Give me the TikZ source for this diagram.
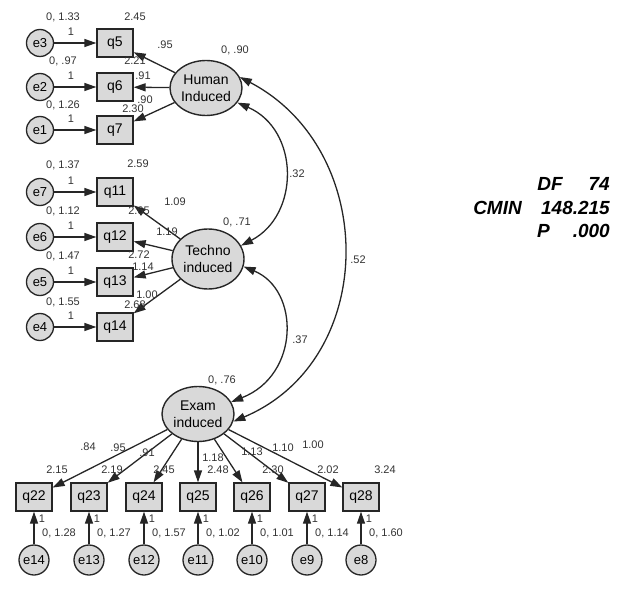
\documentclass[tikz,border=0pt]{standalone}
\usepackage{fontspec}
\setmainfont{Liberation Sans}
\usetikzlibrary{arrows.meta,shapes.geometric}
\begin{document}
\begin{tikzpicture}[x=1pt,y=-1pt,
  obs/.style={draw=black!85, fill=black!15, line width=1.3pt, minimum width=36pt, minimum height=28pt, inner sep=0pt, font=\fontsize{14}{16}\selectfont},
  err/.style={circle, draw=black!85, fill=black!15, line width=1.3pt, minimum size=27pt, inner sep=0pt, font=\fontsize{13}{15}\selectfont},
  errb/.style={err, minimum size=30pt},
  lat/.style={ellipse, draw=black!85, fill=black!15, line width=1.4pt, minimum width=72pt, minimum height=55pt, inner sep=0pt, align=center, font=\fontsize{14}{17}\selectfont},
  lbl/.style={font=\fontsize{11}{12}\selectfont, text=black!80, inner sep=0pt},
  fit/.style={font=\fontsize{19}{21}\selectfont\bfseries\itshape, inner sep=0pt, anchor=east},
  reg/.style={-{Triangle[length=12pt,width=8pt]}, line width=1.3pt, draw=black!85},
  cov/.style={{Triangle[length=12pt,width=8pt]}-{Triangle[length=12pt,width=8pt]}, line width=1.3pt, draw=black!85},
]
\useasboundingbox (0,0) rectangle (621,596);

% latent variables
\node[lat] (H) at (206,88) {Human\\Induced};
\node[lat, minimum height=60pt] (T) at (208,259) {Techno\\induced};
\node[lat] (X) at (198,414) {Exam\\induced};

% Human block
\node[obs] (q5) at (115,43) {q5};
\node[obs] (q6) at (115,87) {q6};
\node[obs] (q7) at (115,130) {q7};
\node[err] (e3) at (40,43) {e3};
\node[err] (e2) at (40,87) {e2};
\node[err] (e1) at (40,130) {e1};

% Techno block
\node[obs] (q11) at (115,192) {q11};
\node[obs] (q12) at (115,237) {q12};
\node[obs] (q13) at (115,282) {q13};
\node[obs] (q14) at (115,327) {q14};
\node[err] (e7) at (40,192) {e7};
\node[err] (e6) at (40,237) {e6};
\node[err] (e5) at (40,282) {e5};
\node[err] (e4) at (40,327) {e4};

% Exam block
\node[obs] (q22) at (34,497) {q22};
\node[obs] (q23) at (89,497) {q23};
\node[obs] (q24) at (144,497) {q24};
\node[obs] (q25) at (198,497) {q25};
\node[obs] (q26) at (252,497) {q26};
\node[obs] (q27) at (307,497) {q27};
\node[obs] (q28) at (361,497) {q28};
\node[errb] (e14) at (34,560) {e14};
\node[errb] (e13) at (89,560) {e13};
\node[errb] (e12) at (144,560) {e12};
\node[errb] (e11) at (198,560) {e11};
\node[errb] (e10) at (252,560) {e10};
\node[errb] (e9) at (307,560) {e9};
\node[errb] (e8) at (361,560) {e8};

% error paths
\foreach \e/\q in {e3/q5,e2/q6,e1/q7,e7/q11,e6/q12,e5/q13,e4/q14,e14/q22,e13/q23,e12/q24,e11/q25,e10/q26,e9/q27,e8/q28}
  \draw[reg] (\e) -- (\q);

% loadings
\foreach \q in {q5,q6,q7} \draw[reg] (H) -- (\q);
\foreach \q in {q11,q12,q13,q14} \draw[reg] (T) -- (\q);
\foreach \q in {q22,q23,q24,q25,q26,q27,q28} \draw[reg] (X) -- (\q);

% covariances
\draw[cov] (H.-25) .. controls (300,130) and (300,215) .. (T.22);
\draw[cov] (T.-12) .. controls (300,290) and (300,375) .. (X.20);
\draw[cov] (H.18) .. controls (379,150) and (379,360) .. (X.-12);

% labels: Human
\node[lbl] (l1) at (63,17) {0, 1.33};
\node[lbl] (l2) at (135,17) {2.45};
\node[lbl] (l3) at (71,32) {1};
\node[lbl] (l4) at (63,61) {0, .97};
\node[lbl] (l5) at (135,61) {2.21};
\node[lbl] (l6) at (71,76) {1};
\node[lbl] (l7) at (63,105) {0, 1.26};
\node[lbl] (l8) at (71,119) {1};
\node[lbl] (l9) at (165,45) {.95};
\node[lbl] (l10) at (143,76) {.91};
\node[lbl] (l11) at (133,109) {2.30};
\node[lbl] (l12) at (145,100) {.90};
\node[lbl] (l13) at (235,50) {0, .90};

% labels: Techno
\node[lbl] (m1) at (63,165) {0, 1.37};
\node[lbl] (m2) at (138,164) {2.59};
\node[lbl] (m3) at (71,181) {1};
\node[lbl] (m4) at (63,211) {0, 1.12};
\node[lbl] (m5) at (139,211) {2.65};
\node[lbl] (m6) at (71,226) {1};
\node[lbl] (m7) at (63,256) {0, 1.47};
\node[lbl] (m8) at (139,255) {2.72};
\node[lbl] (m9) at (71,271) {1};
\node[lbl] (m10) at (63,302) {0, 1.55};
\node[lbl] (m11) at (135,305) {2.68};
\node[lbl] (m12) at (147,295) {1.00};
\node[lbl] (m13) at (71,316) {1};
\node[lbl] (m14) at (175,202) {1.09};
\node[lbl] (m15) at (167,232) {1.19};
\node[lbl] (m16) at (143,267) {1.14};
\node[lbl] (m17) at (237,222) {0, .71};

% labels: Exam
\node[lbl] (n1) at (222,380) {0, .76};
\node[lbl] (n2) at (88,447) {.84};
\node[lbl] (n3) at (118,448) {.95};
\node[lbl] (n4) at (147,453) {.91};
\node[lbl] (n5) at (213,458) {1.18};
\node[lbl] (n6) at (252,452) {1.13};
\node[lbl] (n7) at (283,448) {1.10};
\node[lbl] (n8) at (313,445) {1.00};
\foreach \x/\v in {57/2.15,112/2.19,164/2.45,218/2.48,273/2.30,328/2.02,385/3.24}
  \node[lbl] at (\x,470) {\v};
\foreach \x/\v in {34/1.28,89/1.27,144/1.57,198/1.02,252/1.01,307/1.14,361/1.60} {
  \node[lbl] at (\x+8,519) {1};
  \node[lbl] at (\x+25,533) {0, \v};
}

% labels: covariances
\node[lbl] (c1) at (297,174) {.32};
\node[lbl] (c2) at (300,340) {.37};
\node[lbl] (c3) at (358,260) {.52};

% fit statistics
\node[fit] (df) at (563,184) {DF};
\node[fit] (dfv) at (610,184) {74};
\node[fit] (cm) at (522,208) {CMIN};
\node[fit] (cmv) at (610,208) {148.215};
\node[fit] (p) at (550,231) {P};
\node[fit] (pv) at (610,231) {.000};
\end{tikzpicture}
\end{document}
